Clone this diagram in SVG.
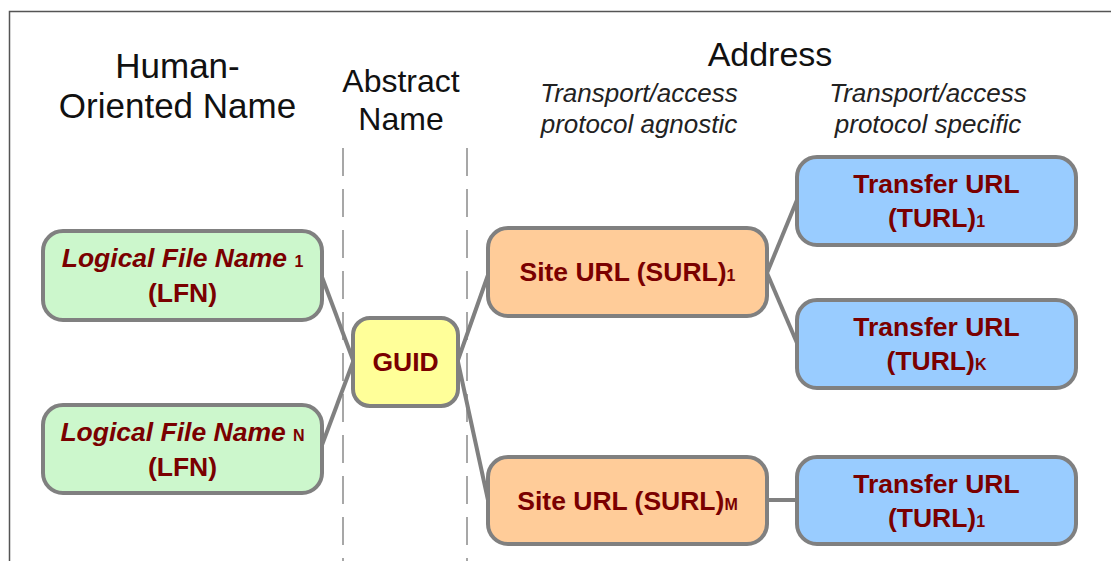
<svg xmlns="http://www.w3.org/2000/svg" width="1111" height="561" viewBox="0 0 1111 561">
  <style>
    .frame { fill: none; stroke: #555555; stroke-width: 1.5; }
    .divider { stroke: #8a8a8a; stroke-width: 1.5; stroke-dasharray: 28 13; }
    .head { font-family: "Liberation Sans", Arial, sans-serif; fill: #111111; text-anchor: middle; }
    .sub-head { font-family: "Liberation Sans", Arial, sans-serif; font-style: italic; font-size: 26px; fill: #222222; text-anchor: middle; }
    .box { stroke: #808080; stroke-width: 4; }
    .lfn { fill: #ccf7cc; }
    .guid { fill: #ffff99; }
    .surl { fill: #ffcc99; }
    .turl { fill: #99ccff; }
    .label { font-family: "Liberation Sans", Arial, sans-serif; font-weight: bold; font-size: 26.5px; fill: #7a0000; text-anchor: middle; }
    .it { font-style: italic; }
    .idx { font-size: 16px; }
    .link { stroke: #808080; stroke-width: 4; fill: none; }
  </style>

  <!-- outer frame -->
  <rect class="frame" x="9.5" y="11.5" width="1200" height="600"/>

  <!-- column headings -->
  <g id="headings">
    <text class="head" font-size="35" x="177.5" y="78">Human-</text>
    <text class="head" font-size="35" x="177.5" y="118">Oriented Name</text>
    <text class="head" font-size="32" x="401" y="92">Abstract</text>
    <text class="head" font-size="32" x="401" y="130">Name</text>
    <text class="head" font-size="34" x="770" y="66">Address</text>
    <text class="sub-head" x="639" y="102">Transport/access</text>
    <text class="sub-head" x="639" y="133">protocol agnostic</text>
    <text class="sub-head" x="928" y="102">Transport/access</text>
    <text class="sub-head" x="928" y="133">protocol specific</text>
  </g>

  <!-- column dividers -->
  <g id="dividers">
    <line class="divider" x1="343" y1="148" x2="343" y2="561"/>
    <line class="divider" x1="467" y1="148" x2="467" y2="561"/>
  </g>

  <!-- connectors -->
  <g id="connectors">
    <line class="link" x1="322" y1="277" x2="353" y2="360"/>
    <line class="link" x1="322" y1="445" x2="353" y2="362"/>
    <line class="link" x1="458" y1="360" x2="488" y2="275"/>
    <line class="link" x1="458" y1="362" x2="488" y2="500"/>
    <line class="link" x1="767" y1="273" x2="797" y2="200"/>
    <line class="link" x1="767" y1="273" x2="797" y2="343"/>
    <line class="link" x1="767" y1="500" x2="797" y2="500"/>
  </g>

  <!-- nodes -->
  <g id="lfn-1">
    <rect class="box lfn" x="43" y="231" width="279" height="89" rx="20"/>
    <text class="label" x="182.5" y="267"><tspan class="it">Logical File Name </tspan><tspan class="idx">1</tspan></text>
    <text class="label" x="182.5" y="302">(LFN)</text>
  </g>
  <g id="lfn-n">
    <rect class="box lfn" x="43" y="405" width="279" height="88" rx="20"/>
    <text class="label" x="182.5" y="441"><tspan class="it">Logical File Name </tspan><tspan class="idx">N</tspan></text>
    <text class="label" x="182.5" y="476">(LFN)</text>
  </g>
  <g id="guid">
    <rect class="box guid" x="353" y="318" width="105" height="88" rx="17"/>
    <text class="label" x="405.5" y="371">GUID</text>
  </g>
  <g id="surl-1">
    <rect class="box surl" x="488" y="228" width="279" height="88" rx="20"/>
    <text class="label" x="627.5" y="281">Site URL (SURL)<tspan class="idx">1</tspan></text>
  </g>
  <g id="surl-m">
    <rect class="box surl" x="488" y="457" width="279" height="87" rx="20"/>
    <text class="label" x="627.5" y="510">Site URL (SURL)<tspan class="idx">M</tspan></text>
  </g>
  <g id="turl-1a">
    <rect class="box turl" x="797" y="157" width="279" height="88" rx="20"/>
    <text class="label" x="936.5" y="193">Transfer URL</text>
    <text class="label" x="936.5" y="227">(TURL)<tspan class="idx">1</tspan></text>
  </g>
  <g id="turl-k">
    <rect class="box turl" x="797" y="300" width="279" height="88" rx="20"/>
    <text class="label" x="936.5" y="336">Transfer URL</text>
    <text class="label" x="936.5" y="370">(TURL)<tspan class="idx">K</tspan></text>
  </g>
  <g id="turl-1b">
    <rect class="box turl" x="797" y="457" width="279" height="87" rx="20"/>
    <text class="label" x="936.5" y="493">Transfer URL</text>
    <text class="label" x="936.5" y="527">(TURL)<tspan class="idx">1</tspan></text>
  </g>
</svg>
